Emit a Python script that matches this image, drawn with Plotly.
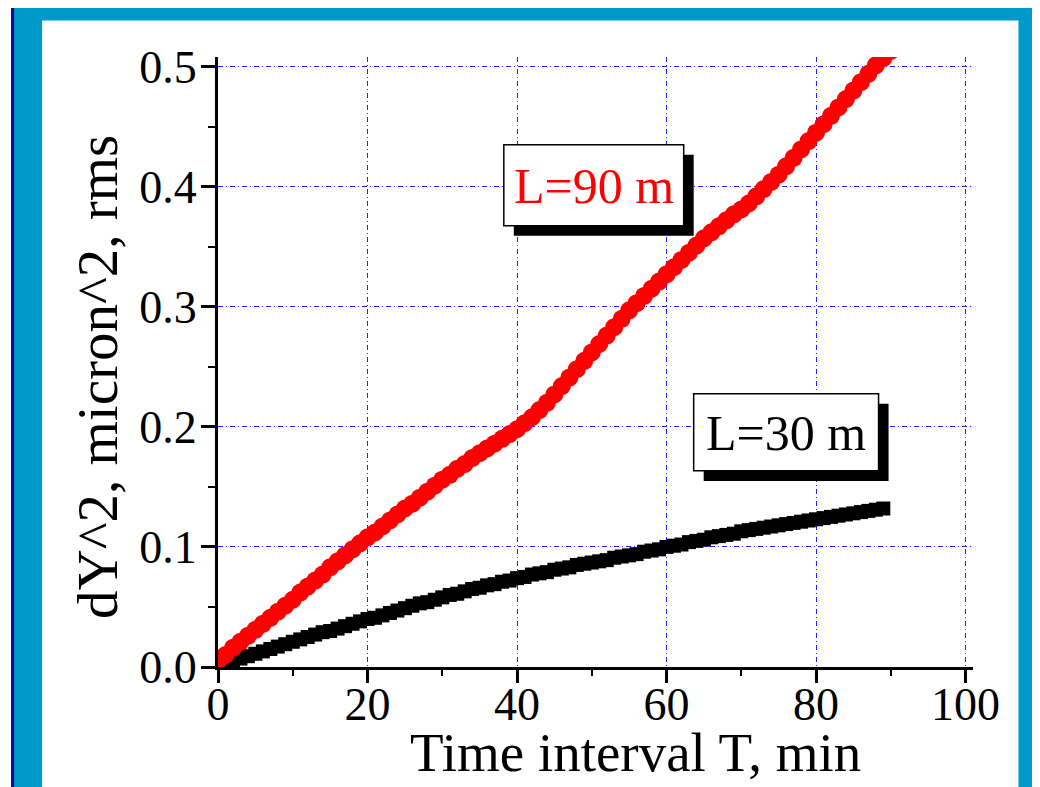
import plotly.graph_objects as go

# ---------------- data ----------------
time_L90 = [0, 1, 2, 3, 4, 5, 6, 7, 8, 9, 10, 11, 12, 13, 14, 15, 16, 17, 18, 19, 20,
            21, 22, 23, 24, 25, 26, 27, 28, 29, 30, 31, 32, 33, 34, 35, 36, 37, 38, 39, 40,
            41, 42, 43, 44, 45, 46, 47, 48, 49, 50, 51, 52, 53, 54, 55, 56, 57, 58, 59, 60,
            61, 62, 63, 64, 65, 66, 67, 68, 69, 70, 71, 72, 73, 74, 75, 76, 77, 78, 79, 80,
            81, 82, 83, 84, 85, 86, 87, 88, 89, 90]
dy2_L90 = [0.005, 0.010, 0.016, 0.021, 0.026, 0.031, 0.036, 0.041, 0.046, 0.051, 0.056,
           0.062, 0.067, 0.072, 0.077, 0.083, 0.088, 0.093, 0.098, 0.103, 0.108,
           0.112, 0.117, 0.122, 0.127, 0.132, 0.136, 0.141, 0.146, 0.151, 0.156,
           0.160, 0.165, 0.169, 0.174, 0.178, 0.182, 0.186, 0.190, 0.194, 0.198,
           0.203, 0.208, 0.214, 0.220, 0.227, 0.234, 0.241, 0.248, 0.255, 0.262,
           0.269, 0.276, 0.283, 0.290, 0.297, 0.303, 0.309, 0.315, 0.321, 0.327,
           0.333, 0.339, 0.345, 0.351, 0.357, 0.362, 0.367, 0.372, 0.377, 0.381,
           0.386, 0.392, 0.398, 0.404, 0.410, 0.417, 0.424, 0.431, 0.438, 0.445,
           0.452, 0.459, 0.466, 0.473, 0.480, 0.487, 0.494, 0.501, 0.507, 0.513]

time_L30 = [0, 1, 2, 3, 4, 5, 6, 7, 8, 9, 10, 11, 12, 13, 14, 15, 16, 17, 18, 19, 20,
            21, 22, 23, 24, 25, 26, 27, 28, 29, 30, 31, 32, 33, 34, 35, 36, 37, 38, 39, 40,
            41, 42, 43, 44, 45, 46, 47, 48, 49, 50, 51, 52, 53, 54, 55, 56, 57, 58, 59, 60,
            61, 62, 63, 64, 65, 66, 67, 68, 69, 70, 71, 72, 73, 74, 75, 76, 77, 78, 79, 80,
            81, 82, 83, 84, 85, 86, 87, 88, 89]
dy2_L30 = [0.000, 0.003, 0.005, 0.007, 0.009, 0.011, 0.013, 0.015, 0.017, 0.019, 0.021,
           0.023, 0.025, 0.027, 0.029, 0.030, 0.032, 0.034, 0.036, 0.038, 0.040,
           0.041, 0.043, 0.045, 0.047, 0.049, 0.051, 0.053, 0.054, 0.056, 0.058,
           0.060, 0.061, 0.063, 0.065, 0.066, 0.068, 0.069, 0.071, 0.072, 0.074,
           0.075, 0.077, 0.078, 0.079, 0.081, 0.082, 0.083, 0.085, 0.086, 0.087,
           0.088, 0.089, 0.091, 0.092, 0.093, 0.094, 0.096, 0.097, 0.098, 0.100,
           0.101, 0.102, 0.104, 0.105, 0.106, 0.108, 0.109, 0.110, 0.111, 0.113,
           0.114, 0.115, 0.116, 0.117, 0.118, 0.119, 0.120, 0.121, 0.122, 0.123,
           0.124, 0.125, 0.126, 0.127, 0.128, 0.129, 0.130, 0.131, 0.132]

x_ticks = [0, 20, 40, 60, 80, 100]
y_ticks = [0.0, 0.1, 0.2, 0.3, 0.4, 0.5]
label_L90 = "L=90 m"
label_L30 = "L=30 m"
x_title = "Time interval T, min"
y_title = "dY^2, micron^2, rms"

# ---------------- layout geometry (pixels, reference coordinates) ----------------
OFF = 8  # page body margin
W, H = 1040 - OFF, 787 - OFF
ML, MT = 218 - OFF, 57.4 - OFF
PW, PH = 755.5, 609.6
MR = W - ML - PW
MB = H - MT - PH


def px(x):
    return (x - OFF - ML) / PW


def py(y):
    return 1 - (y - OFF - MT) / PH


FONT = "Liberation Serif, Times New Roman, serif"

fig = go.Figure()
fig.add_trace(go.Scatter(
    x=time_L30, y=dy2_L30, mode="markers", name=label_L30,
    marker=dict(symbol="square", size=14, color="black", line=dict(width=0)),
))
fig.add_trace(go.Scatter(
    x=time_L90, y=dy2_L90, mode="markers", name=label_L90,
    marker=dict(symbol="circle", size=18, color="#ff0000", line=dict(width=0)),
))

shapes = []
# outer frame: cyan panel with a thin navy edge on top and left
shapes.append(dict(type="rect", xref="paper", yref="paper", layer="below",
                   x0=px(11), x1=px(1060), y0=py(7), y1=py(810),
                   fillcolor="#0099cc", line=dict(width=0)))
shapes.append(dict(type="rect", xref="paper", yref="paper", layer="below",
                   x0=px(11), x1=px(1060), y0=py(4), y1=py(7),
                   fillcolor="#0a0a8c", line=dict(width=0)))
shapes.append(dict(type="rect", xref="paper", yref="paper", layer="below",
                   x0=px(11), x1=px(14), y0=py(4), y1=py(810),
                   fillcolor="#0a0a8c", line=dict(width=0)))
shapes.append(dict(type="rect", xref="paper", yref="paper", layer="below",
                   x0=px(42), x1=px(1019), y0=py(21), y1=py(810),
                   fillcolor="white", line=dict(width=0)))


def label_box(x0, y0, x1, y1, off=10):
    shapes.append(dict(type="rect", xref="paper", yref="paper", layer="above",
                       x0=px(x0 + off), x1=px(x1 + off), y0=py(y0 + off), y1=py(y1 + off),
                       fillcolor="black", line=dict(width=0)))
    shapes.append(dict(type="rect", xref="paper", yref="paper", layer="above",
                       x0=px(x0), x1=px(x1), y0=py(y0), y1=py(y1),
                       fillcolor="white", line=dict(color="black", width=1.5)))


label_box(504, 145, 684, 226)
label_box(694, 394, 879, 471)

annotations = [
    dict(text=label_L90, xref="paper", yref="paper", x=px(594), y=py(186),
         xanchor="center", yanchor="middle", showarrow=False,
         font=dict(family=FONT, size=50, color="#ff0000")),
    dict(text=label_L30, xref="paper", yref="paper", x=px(786), y=py(433),
         xanchor="center", yanchor="middle", showarrow=False,
         font=dict(family=FONT, size=50, color="black")),
    dict(text=x_title, xref="paper", yref="paper", x=px(636), y=py(752),
         xanchor="center", yanchor="middle", showarrow=False,
         font=dict(family=FONT, size=55, color="black")),
    dict(text=y_title, xref="paper", yref="paper", x=px(98), y=py(377),
         xanchor="center", yanchor="middle", showarrow=False, textangle=-90,
         font=dict(family=FONT, size=57, color="black")),
]

grid = dict(showgrid=True, gridcolor="#2222ff", gridwidth=1, griddash="5px,3px,1px,3px")

fig.update_layout(
    width=W, height=H,
    margin=dict(l=ML, r=MR, t=MT, b=MB, pad=0),
    paper_bgcolor="white", plot_bgcolor="rgba(0,0,0,0)",
    showlegend=False,
    shapes=shapes, annotations=annotations,
    font=dict(family=FONT, color="black"),
    xaxis=dict(range=[0, 101], tickvals=x_ticks, ticktext=[str(v) for v in x_ticks],
               ticks="outside", ticklen=13, tickwidth=3, tickcolor="black",
               showline=True, linewidth=3, linecolor="black", zeroline=False,
               tickfont=dict(family=FONT, size=46, color="black"),
               ticklabelstandoff=-18,
               minor=dict(ticks="outside", ticklen=6, tickwidth=2, tickcolor="black",
                          dtick=10, tick0=0, showgrid=False),
               **grid),
    yaxis=dict(range=[0, 0.508], tickvals=y_ticks, ticktext=[f"{v:.1f}" for v in y_ticks],
               ticks="outside", ticklen=14, tickwidth=3, tickcolor="black",
               showline=True, linewidth=3, linecolor="black", zeroline=False,
               tickfont=dict(family=FONT, size=46, color="black"),
               ticklabelstandoff=-5,
               minor=dict(ticks="outside", ticklen=7, tickwidth=2, tickcolor="black",
                          dtick=0.05, tick0=0, showgrid=False),
               **grid),
)

fig.write_html("out.html")
